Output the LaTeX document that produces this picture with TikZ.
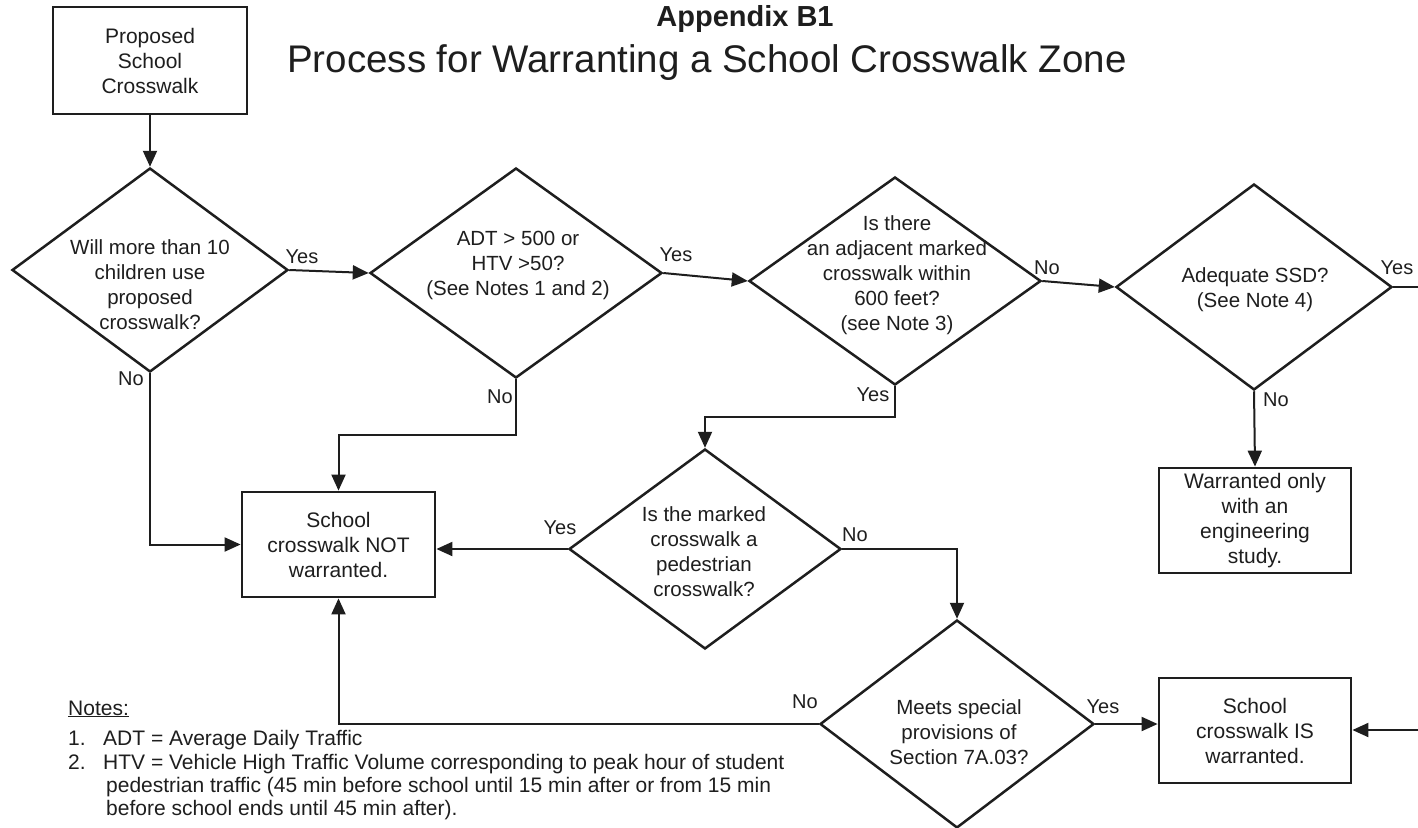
\documentclass[tikz,border=0pt]{standalone}
\usepackage{fontspec}
\setmainfont{Liberation Sans}
\usetikzlibrary{shapes.geometric,arrows.meta}
\definecolor{ink}{HTML}{1E1E1E}
\newcommand\fsz[2]{\fontsize{#1}{#2}\selectfont}
\begin{document}
\begin{tikzpicture}[x=1pt,y=-1pt,
 conn/.style={draw=ink,line width=2pt},
 arr/.style={conn,-{Triangle[length=16pt,width=14pt]}},
 dia/.style={diamond,draw=ink,line width=2.5pt,inner sep=0pt},
 boxn/.style={rectangle,draw=ink,line width=2.8pt,inner sep=0pt,align=center,text=ink,font=\fsz{21}{25}},
 qtext/.style={align=center,text=ink,font=\fsz{20.5}{25},inner sep=0pt},
 lbl/.style={text=ink,font=\fsz{20}{24},inner sep=0pt},
 note/.style={anchor=base west,text=ink,font=\fsz{21}{24},inner sep=0pt}
]
\fill[white] (0,0) rectangle (1418,827);
\useasboundingbox (0,0) rectangle (1418,827);

% titles
\node[anchor=base,text=ink,font=\fsz{29}{32}\bfseries,inner sep=0pt] (app) at (745,26) {Appendix B1};
\node[anchor=base,text=ink,font=\fsz{38.5}{42},inner sep=0pt] (title) at (707,72) {Process for Warranting a School Crosswalk Zone};

% boxes
\node[boxn,minimum width=194pt,minimum height=107pt] (s0) at (150,60.5) {Proposed\\School\\Crosswalk};
\node[boxn,minimum width=193pt,minimum height=105pt] (bnot) at (338.5,544.5) {School\\crosswalk NOT\\warranted.};
\node[boxn,minimum width=192pt,minimum height=105pt] (bstudy) at (1255,520.5) {Warranted only\\with an\\engineering\\study.};
\node[boxn,minimum width=192pt,minimum height=105pt] (bis) at (1255,730.5) {School\\crosswalk IS\\warranted.};

% decisions
\node[dia,minimum width=276pt,minimum height=204pt] (d1) at (150,270) {};
\node[qtext] (d1t) at (150,285) {Will more than 10\\children use\\proposed\\crosswalk?};
\node[dia,minimum width=292pt,minimum height=210pt] (d2) at (516,273) {};
\node[qtext] (d2t) at (518,265) {ADT > 500 or\\HTV >50?\\(See Notes 1 and 2)};
\node[dia,minimum width=292pt,minimum height=208pt] (d3) at (895,281) {};
\node[qtext] (d3t) at (897,275) {Is there\\an adjacent marked\\crosswalk within\\600 feet?\\(see Note 3)};
\node[dia,minimum width=276pt,minimum height=206pt] (d4) at (1254,287) {};
\node[qtext] (d4t) at (1255,290) {Adequate SSD?\\(See Note 4)};
\node[dia,minimum width=272pt,minimum height=200pt] (d5) at (705,549) {};
\node[qtext] (d5t) at (704,552) {Is the marked\\crosswalk a\\pedestrian\\crosswalk?};
\node[dia,minimum width=274pt,minimum height=208pt] (d6) at (957,724) {};
\node[qtext] (d6t) at (959,732) {Meets special\\provisions of\\Section 7A.03?};

% free ends and bends
\coordinate (rout) at (1418,287);
\coordinate (rin) at (1418,730);
\coordinate (k2) at (0,435);
\coordinate (k3) at (0,417);

% connectors
\draw[arr] (s0.south) -- (d1.north);
\draw[arr] (d1.east) -- (d2.west);
\draw[arr] (d2.east) -- (d3.west);
\draw[arr] (d3.east) -- (d4.west);
\draw[conn] (d4.east) -- (rout);
\draw[arr] (d4.south) -- (bstudy.north);
\draw[arr] (d1.south) |- (bnot.west);
\draw[arr] (d2.south) -- (d2.south |- k2) -| (bnot.north);
\draw[arr] (d3.south) -- (d3.south |- k3) -| (d5.north);
\draw[arr] (d5.west) -- (d5.west -| bnot.east);
\draw[arr] (d5.east) -| (d6.north);
\draw[arr] (d6.west) -| (bnot.south);
\draw[arr] (d6.east) -- (d6.east -| bis.west);
\draw[arr] (rin) -- (rin -| bis.east);

% labels
\node[lbl] (l1y) at (302,257) {Yes};
\node[lbl] (l1n) at (131,379) {No};
\node[lbl] (l2y) at (676,255) {Yes};
\node[lbl] (l2n) at (500,397) {No};
\node[lbl] (l3n) at (1047,268) {No};
\node[lbl] (l3y) at (873,395) {Yes};
\node[lbl] (l4y) at (1397,268) {Yes};
\node[lbl] (l4n) at (1276,400) {No};
\node[lbl] (l5y) at (560,528) {Yes};
\node[lbl] (l5n) at (855,535) {No};
\node[lbl] (l6n) at (805,702) {No};
\node[lbl] (l6y) at (1103,707) {Yes};

% notes
\node[note] (n0) at (68,715) {\underline{Notes:}};
\node[note] (n1a) at (68,745) {1.};
\node[note] (n1) at (103,745) {ADT = Average Daily Traffic};
\node[note] (n2a) at (68,769) {2.};
\node[note] (n2) at (103,769) {HTV = Vehicle High Traffic Volume corresponding to peak hour of student};
\node[note] (n3) at (106,792) {pedestrian traffic (45 min before school until 15 min after or from 15 min};
\node[note] (n4) at (106,815) {before school ends until 45 min after).};
\end{tikzpicture}
\end{document}
